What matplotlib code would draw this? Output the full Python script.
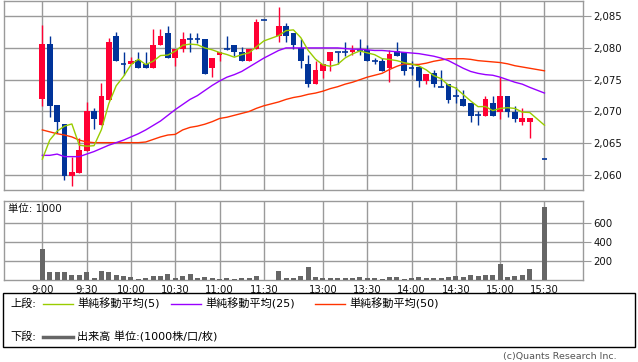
import matplotlib
matplotlib.use('Agg')
import matplotlib.pyplot as plt
from matplotlib.patches import Rectangle
from matplotlib.lines import Line2D
from matplotlib.ticker import FuncFormatter
import numpy as np

# ---------------- data ----------------
times = ["09:00", "09:05", "09:10", "09:15", "09:20", "09:25", "09:30", "09:35", "09:40", "09:45",
         "09:50", "09:55", "10:00", "10:05", "10:10", "10:15", "10:20", "10:25", "10:30", "10:35",
         "10:40", "10:45", "10:50", "10:55", "11:00", "11:05", "11:10", "11:15", "11:20", "11:25",
         "11:30",
         "12:30", "12:35", "12:40", "12:45", "12:50", "12:55", "13:00", "13:05", "13:10", "13:15",
         "13:20", "13:25", "13:30", "13:35", "13:40", "13:45", "13:50", "13:55", "14:00", "14:05",
         "14:10", "14:15", "14:20", "14:25", "14:30", "14:35", "14:40", "14:45", "14:50", "14:55",
         "15:00", "15:05", "15:10", "15:15", "15:20", "15:30"]

opens = [2071.9, 2080.6, 2071.0, 2068.0, 2059.9, 2060.4, 2063.8, 2070.0, 2067.9, 2071.8,
         2081.9, 2077.4, 2077.4, 2078.1, 2077.4, 2076.8, 2080.4, 2082.4, 2078.4, 2079.9,
         2081.4, 2081.4, 2081.4, 2076.8, 2078.9, 2079.8, 2080.5, 2079.4, 2077.9, 2079.9,
         2084.4,
         2081.8, 2083.5, 2082.4, 2080.0, 2077.4, 2074.4, 2076.3, 2077.9, 2079.4, 2079.4,
         2079.3, 2079.7, 2079.7, 2078.0, 2078.0, 2076.8, 2079.5, 2079.3, 2076.9, 2077.0,
         2074.8, 2076.0, 2073.9, 2074.4, 2072.5, 2071.9, 2071.4, 2069.4, 2069.3, 2071.4,
         2069.9, 2072.5, 2069.9, 2068.4, 2068.4, 2062.5]
highs = [2083.6, 2081.9, 2071.0, 2068.0, 2062.9, 2065.9, 2071.5, 2070.5, 2074.5, 2081.5,
         2082.5, 2079.3, 2078.5, 2079.3, 2079.3, 2083.0, 2083.0, 2083.5, 2079.9, 2082.5,
         2082.4, 2082.4, 2081.4, 2078.4, 2079.3, 2081.9, 2080.5, 2080.1, 2079.9, 2084.6,
         2084.4,
         2086.5, 2083.9, 2082.4, 2081.4, 2078.9, 2078.0, 2077.4, 2079.4, 2079.4, 2081.0,
         2080.5, 2081.4, 2080.5, 2078.4, 2078.4, 2079.6, 2081.0, 2079.3, 2078.0, 2077.0,
         2075.9, 2076.5, 2076.5, 2074.4, 2073.8, 2073.4, 2071.4, 2070.0, 2072.5, 2072.5,
         2075.4, 2072.5, 2070.8, 2070.5, 2069.0, 2062.5]
lows = [2070.8, 2069.2, 2066.6, 2059.2, 2058.3, 2060.4, 2063.8, 2067.3, 2067.9, 2071.8,
        2077.9, 2075.8, 2077.4, 2076.8, 2076.8, 2076.8, 2080.4, 2078.4, 2077.2, 2079.3,
        2079.3, 2080.8, 2075.9, 2075.4, 2077.9, 2079.7, 2078.8, 2077.9, 2077.9, 2079.9,
        2084.4,
        2080.9, 2080.9, 2079.9, 2076.9, 2073.8, 2074.4, 2075.3, 2076.3, 2077.4, 2078.8,
        2078.9, 2078.9, 2077.9, 2077.4, 2076.3, 2074.7, 2078.8, 2075.8, 2075.8, 2073.8,
        2074.4, 2073.8, 2073.9, 2071.3, 2071.3, 2070.8, 2068.4, 2067.8, 2069.3, 2069.3,
        2068.8, 2069.2, 2068.4, 2067.8, 2065.8, 2062.5]
closes = [2080.6, 2070.8, 2068.4, 2059.9, 2060.5, 2063.9, 2070.0, 2068.8, 2072.5, 2081.0,
          2077.9, 2077.4, 2078.0, 2076.8, 2076.8, 2080.5, 2081.9, 2078.4, 2079.9, 2081.4,
          2081.4, 2081.4, 2075.9, 2078.4, 2079.3, 2079.8, 2079.3, 2077.9, 2079.9, 2084.0,
          2084.4,
          2083.5, 2081.8, 2080.5, 2077.9, 2074.4, 2076.5, 2077.4, 2079.4, 2079.4, 2079.4,
          2079.7, 2079.7, 2077.9, 2078.0, 2076.3, 2079.0, 2078.8, 2076.3, 2076.9, 2074.8,
          2075.9, 2074.3, 2073.9, 2071.8, 2072.5, 2070.8, 2069.3, 2069.4, 2071.9, 2069.3,
          2072.5, 2069.9, 2068.8, 2069.0, 2069.0, 2062.5]
volumes = [328, 81, 81, 81, 53, 53, 81, 25, 95, 88,
           53, 42, 32, 14, 21, 42, 42, 63, 25, 42,
           63, 25, 32, 21, 14, 21, 14, 21, 21, 42,
           4,
           95, 21, 21, 42, 138, 30, 18, 18, 18, 18,
           18, 28, 18, 18, 11, 32, 32, 11, 21, 32,
           21, 21, 21, 32, 42, 32, 53, 42, 53, 53,
           169, 32, 42, 53, 116, 769]
prev_closes = [2055.8, 2061.4, 2055.9, 2058.8]   # previous session's last closes (for MA5)
ma25 = [2063.1, 2063.1, 2063.3, 2062.9, 2062.9, 2062.9, 2063.3, 2063.7, 2064.2, 2064.7,
        2065.1, 2065.5, 2066.0, 2066.5, 2067.1, 2067.8, 2068.5, 2069.4, 2070.3, 2071.1,
        2071.9, 2072.5, 2073.3, 2074.1, 2074.8, 2075.4, 2075.8, 2076.3, 2077.0, 2077.7,
        2078.4,
        2079.6, 2080.0, 2080.0, 2080.0, 2080.0, 2080.0, 2080.0, 2080.0, 2080.0, 2079.9,
        2079.8, 2079.8, 2079.7, 2079.6, 2079.6, 2079.5, 2079.4, 2079.3, 2079.2, 2079.1,
        2078.9, 2078.7, 2078.4, 2078.0, 2077.4, 2076.8, 2076.3, 2076.0, 2075.8, 2075.7,
        2075.4, 2075.0, 2074.6, 2074.3, 2073.8, 2072.9]
ma50 = [2067.1, 2066.8, 2066.5, 2066.3, 2066.0, 2065.5, 2065.2, 2065.1, 2065.1, 2065.1,
        2065.1, 2065.1, 2065.1, 2065.1, 2065.2, 2065.6, 2066.0, 2066.3, 2066.4, 2067.1,
        2067.5, 2067.7, 2068.0, 2068.4, 2068.9, 2069.1, 2069.4, 2069.7, 2070.0, 2070.5,
        2070.9,
        2071.5, 2071.9, 2072.2, 2072.4, 2072.7, 2072.9, 2073.2, 2073.6, 2073.9, 2074.3,
        2074.6, 2075.0, 2075.4, 2075.7, 2076.0, 2076.6, 2077.1, 2077.5, 2077.4, 2077.4,
        2077.6, 2077.9, 2078.1, 2078.3, 2078.3, 2078.3, 2078.2, 2078.0, 2077.9, 2077.8,
        2077.7, 2077.5, 2077.2, 2077.0, 2076.8, 2076.4]

tick_labels = ["9:00", "9:30", "10:00", "10:30", "11:00", "11:30",
               "13:00", "13:30", "14:00", "14:30", "15:00", "15:30"]
price_ticks = [2060, 2065, 2070, 2075, 2080, 2085]
vol_ticks = [200, 400, 600]

# ---------------- helpers ----------------
def slot(t):
    h, m = map(int, t.split(":"))
    mins = h * 60 + m
    if mins <= 11 * 60 + 30:
        return (mins - 9 * 60) / 5
    return 32 + (mins - (12 * 60 + 30)) / 5

x = np.array([slot(t) for t in times])
tick_pos = [slot(t if len(t) == 5 else "0" + t) for t in tick_labels]

allc = prev_closes + closes
ma5 = [np.mean(allc[i:i + 5]) for i in range(len(closes))]

W, H = 638, 362
DPI = 100
fig = plt.figure(figsize=(W / DPI, H / DPI), dpi=DPI)
fig.patch.set_facecolor("white")

def px_rect(x0, y0, x1, y1):
    return [x0 / W, 1 - y1 / H, (x1 - x0) / W, (y1 - y0) / H]

GRID = "#9a9a9a"
RED = "#ff0033"
BLUE = "#003399"
CJK = ["DejaVu Sans", "Noto Sans CJK JP"]

xlim = (-5.26, 73.15)

# ---------------- price panel ----------------
ax = fig.add_axes(px_rect(3.5, 0.5, 582.5, 190))
ax.set_xlim(*xlim)
ax.set_ylim(2057.65, 2087.46)
for s in ax.spines.values():
    s.set_color(GRID)
    s.set_linewidth(1.0)
ax.set_xticks(tick_pos)
ax.set_yticks(price_ticks)
ax.yaxis.set_major_formatter(FuncFormatter(lambda v, p: f"{v:,.0f}"))
ax.yaxis.tick_right()
ax.tick_params(axis="x", length=0, labelbottom=False)
ax.tick_params(axis="y", length=5.5, width=0.8, color=GRID, pad=2.5,
               labelsize=7.3, labelcolor="#111111")
ax.grid(True, color=GRID, linewidth=1.0, zorder=0)
ax.set_axisbelow(True)

bw = 0.78
for xi, o, h, l, c in zip(x, opens, highs, lows, closes):
    col = RED if c > o else BLUE
    ax.vlines(xi, l, h, color=col, linewidth=1.0, zorder=2)
    if abs(c - o) < 0.05:
        ax.hlines(o, xi - bw / 2, xi + bw / 2, color=col, linewidth=1.2, zorder=3)
    else:
        ax.bar(xi, abs(c - o), bottom=min(o, c), width=bw, color=col,
               linewidth=0, zorder=3)

ax.plot(x, ma50, color="#ff3300", linewidth=1.0, zorder=4)
ax.plot(x, ma25, color="#9900ff", linewidth=1.0, zorder=4)
ax.plot(x, ma5, color="#99cc00", linewidth=1.0, zorder=5)

# ---------------- volume panel ----------------
axv = fig.add_axes(px_rect(3.5, 201, 582.5, 280))
axv.set_xlim(*xlim)
axv.set_ylim(0, 836)
for s in axv.spines.values():
    s.set_color(GRID)
    s.set_linewidth(1.0)
axv.bar(x, volumes, width=0.68, color="#666666", linewidth=0, zorder=3)
axv.set_xticks(tick_pos)
axv.set_xticklabels(tick_labels)
axv.set_yticks(vol_ticks)
axv.yaxis.tick_right()
axv.tick_params(axis="x", length=0, pad=3.5, labelsize=7.3, labelcolor="#111111")
axv.tick_params(axis="y", length=5.5, width=0.8, color=GRID, pad=2.5,
                labelsize=7.3, labelcolor="#111111")
axv.grid(True, color=GRID, linewidth=1.0, zorder=0)
axv.set_axisbelow(True)
axv.text(8 / 579 * 0 + (8 - 3.5) / 579, 0.90, "単位: 1000", transform=axv.transAxes,
         ha="left", va="center", fontsize=7.5, family=CJK, color="#111111", zorder=6)

# ---------------- legend box ----------------
def fx(px):
    return px / W

def fy(py):
    return 1 - py / H

fig.patches.append(Rectangle((fx(3), fy(347)), (634.5 - 3) / W, (347 - 293) / H,
                             transform=fig.transFigure, fill=False,
                             edgecolor="black", linewidth=1.0))

row1, row2 = 304, 337
fig.text(fx(10), fy(row1), "上段:", ha="left", va="center", fontsize=8, family=CJK)
items = [(43, "#99cc00", "単純移動平均(5)"),
         (171, "#9900ff", "単純移動平均(25)"),
         (315, "#ff3300", "単純移動平均(50)")]
for x0, col, lab in items:
    fig.lines.append(Line2D([fx(x0), fx(x0 + 30)], [fy(row1), fy(row1)],
                            transform=fig.transFigure, color=col, linewidth=1.0))
    fig.text(fx(x0 + 34), fy(row1), lab, ha="left", va="center", fontsize=8, family=CJK)

fig.text(fx(10), fy(row2), "下段:", ha="left", va="center", fontsize=8, family=CJK)
fig.lines.append(Line2D([fx(43), fx(73)], [fy(row2), fy(row2)],
                        transform=fig.transFigure, color="#666666", linewidth=2.5))
fig.text(fx(77), fy(row2), "出来高 単位:(1000株/口/枚)", ha="left", va="center",
         fontsize=8, family=CJK)

fig.text(fx(617), fy(356), "(c)Quants Research Inc.", ha="right", va="center",
         fontsize=6.8, color="#555555", family=CJK)

fig.savefig("out.png", dpi=DPI, facecolor="white")
